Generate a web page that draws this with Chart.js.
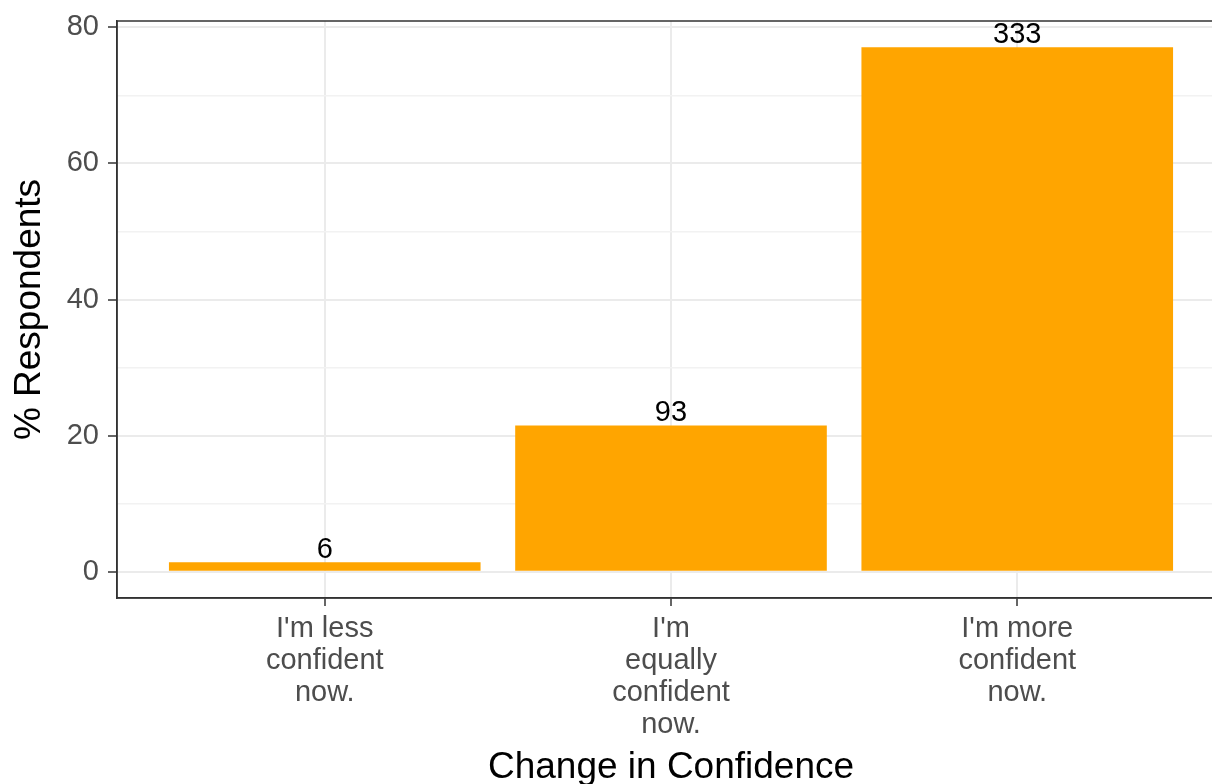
<!DOCTYPE html>
<html>
<head>
<meta charset="utf-8">
<script src="https://cdn.jsdelivr.net/npm/chart.js@4"></script>
<style>
  html, body { margin: 0; padding: 0; background: #fff; overflow: hidden; }
  canvas { display: block; }
</style>
</head>
<body>
<canvas id="grafico" width="1240" height="784"></canvas>
<script>
// data
const categorias = [
  ["I'm less", "confident", "now."],
  ["I'm", "equally", "confident", "now."],
  ["I'm more", "confident", "now."]
];
const posiciones = [1, 2, 3];
const porcentajes = [1.4, 21.5, 77.1];
const conteos = [6, 93, 333];
const ticksY = [0, 10, 20, 30, 40, 50, 60, 70, 80];

const FUENTE = "'Liberation Sans', Arial, sans-serif";
const esMayor = v => v % 20 === 0;

// counts above the bars
const etiquetas = {
  id: "etiquetas",
  afterDatasetsDraw(chart) {
    const ctx = chart.ctx;
    const meta = chart.getDatasetMeta(0);
    ctx.save();
    ctx.fillStyle = "#000";
    ctx.font = "29px " + FUENTE;
    ctx.textAlign = "center";
    ctx.textBaseline = "alphabetic";
    meta.data.forEach((bar, i) => {
      ctx.fillText(String(conteos[i]), bar.x, bar.y - 4);
    });
    ctx.restore();
  }
};

// panel border (theme_bw)
const borde = {
  id: "borde",
  afterDraw(chart) {
    const a = chart.chartArea;
    const ctx = chart.ctx;
    ctx.save();
    ctx.strokeStyle = "#333333";
    ctx.lineWidth = 1.5;
    ctx.strokeRect(a.left, a.top, a.right - a.left, a.bottom - a.top);
    ctx.restore();
  }
};

new Chart(document.getElementById("grafico"), {
  type: "bar",
  data: {
    datasets: [{
      data: posiciones.map((x, i) => ({ x, y: porcentajes[i] })),
      backgroundColor: "#FFA500",
      borderWidth: 0,
      categoryPercentage: 0.9,
      barPercentage: 1
    }]
  },
  options: {
    responsive: false,
    animation: false,
    layout: { padding: { top: 21, right: 15, left: 0, bottom: 0 } },
    plugins: { legend: { display: false }, tooltip: { enabled: false } },
    scales: {
      x: {
        type: "linear",
        offset: false,
        min: 0.4,
        max: 3.6,
        afterBuildTicks: s => { s.ticks = posiciones.map(v => ({ value: v })); },
        afterFit: s => { s.height = 186; s.paddingLeft = 0; s.paddingRight = 0; },
        ticks: {
          color: "#4D4D4D",
          font: { size: 29, family: FUENTE, lineHeight: 1.1 },
          padding: 7,
          maxRotation: 0,
          autoSkip: false,
          callback: (v) => categorias[posiciones.indexOf(v)]
        },
        grid: {
          offset: false,
          color: "#EBEBEB",
          lineWidth: 2,
          tickColor: "#333333",
          tickWidth: 1.5,
          tickLength: 8
        },
        border: { color: "#333333", width: 1.5 },
        title: {
          display: true,
          text: "Change in Confidence",
          color: "#000",
          font: { size: 37, family: FUENTE, lineHeight: 0.9 },
          padding: { top: 0, bottom: 0 }
        }
      },
      y: {
        min: -3.85,
        max: 80.94,
        afterBuildTicks: s => { s.ticks = ticksY.map(v => ({ value: v })); },
        afterFit: s => { s.width = 117; s.paddingTop = 0; s.paddingBottom = 0; },
        ticks: {
          color: "#4D4D4D",
          font: { size: 29, family: FUENTE },
          padding: 9,
          callback: v => esMayor(v) ? String(v) : ""
        },
        grid: {
          color: c => esMayor(c.tick.value) ? "#EBEBEB" : "#F2F2F2",
          lineWidth: c => esMayor(c.tick.value) ? 2 : 1.5,
          tickColor: c => esMayor(c.tick.value) ? "#333333" : "rgba(0,0,0,0)",
          tickWidth: 1.5,
          tickLength: 9
        },
        border: { color: "#333333", width: 1.5 },
        title: {
          display: true,
          text: "% Respondents",
          color: "#000",
          font: { size: 37, family: FUENTE, lineHeight: 1.0 },
          padding: { top: 11, bottom: 0 }
        }
      }
    }
  },
  plugins: [etiquetas, borde]
});
</script>
</body>
</html>
